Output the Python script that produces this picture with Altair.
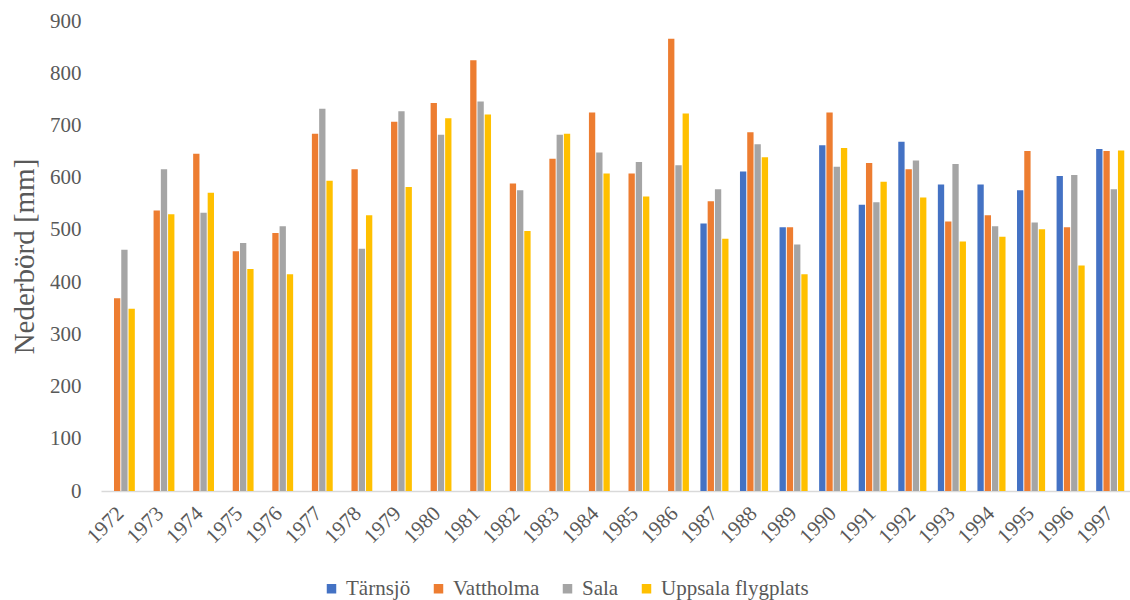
import altair as alt
import pandas as pd

years = [str(y) for y in range(1972, 1998)]
stations = ["Tärnsjö", "Vattholma", "Sala", "Uppsala flygplats"]
colors = ["#4472C4", "#ED7D31", "#A5A5A5", "#FFC000"]

# Annual precipitation (mm); Tärnsjö has no record before 1987
tarnsjo = [None] * 15 + [512, 612, 505, 662, 548, 669, 587, 587, 576, 603, 655]
vattholma = [369, 537, 646, 459, 494, 684, 616, 707, 743, 825, 589, 636, 725,
             608, 866, 555, 687, 505, 725, 628, 616, 516, 528, 651, 505, 651]
sala = [462, 616, 533, 475, 507, 732, 464, 727, 682, 746, 576, 682, 648,
        630, 624, 578, 664, 472, 621, 553, 633, 626, 507, 514, 605, 578]
uppsala = [349, 530, 571, 425, 415, 594, 528, 582, 714, 721, 498, 684, 608,
           564, 723, 483, 639, 415, 657, 592, 562, 478, 487, 501, 432, 652]

rows = []
for name, series in zip(stations, [tarnsjo, vattholma, sala, uppsala]):
    for yr, v in zip(years, series):
        if v is not None:
            rows.append({"year": yr, "station": name, "value": v})
df = pd.DataFrame(rows)

FONT = "Liberation Serif"
GREY = "#595959"

chart = alt.Chart(df).mark_bar().encode(
    x=alt.X(
        "year:N",
        sort=years,
        scale=alt.Scale(paddingInner=0.29, paddingOuter=0.145),
        axis=alt.Axis(
            title=None,
            labelAngle=315,
            labelAlign="right",
            labelBaseline="middle",
            labelPadding=19,
            labelFont=FONT,
            labelFontSize=21,
            labelColor=GREY,
            ticks=False,
            domainColor="#D9D9D9",
            domainWidth=1.5,
            grid=False,
        ),
    ),
    xOffset=alt.XOffset(
        "station:N",
        sort=stations,
        scale=alt.Scale(domain=stations, paddingInner=0.13, paddingOuter=0),
    ),
    y=alt.Y(
        "value:Q",
        scale=alt.Scale(domain=[0, 900], nice=False),
        axis=alt.Axis(
            title="Nederbörd [mm]",
            values=list(range(0, 901, 100)),
            labelFont=FONT,
            labelFontSize=21,
            labelColor=GREY,
            labelPadding=20,
            ticks=False,
            domain=False,
            grid=False,
            titleFont=FONT,
            titleFontSize=29,
            titleFontWeight="normal",
            titleColor=GREY,
            titleX=-62,
            titleY=235,
        ),
    ),
    color=alt.Color(
        "station:N",
        sort=stations,
        scale=alt.Scale(domain=stations, range=colors),
        legend=alt.Legend(
            title=None,
            orient="none",
            direction="horizontal",
            legendX=220,
            legendY=557,
            symbolType="square",
            symbolSize=90,
            symbolStrokeWidth=0,
            labelFont=FONT,
            labelFontSize=21,
            labelColor=GREY,
            labelOffset=4,
            columnPadding=17,
            padding=0,
        ),
    ),
).properties(
    width=1029,
    height=470,
    autosize=alt.AutoSizeParams(type="none"),
    padding={"left": 101, "top": 21, "right": 0, "bottom": 109},
).configure(
    background="white",
    font=FONT,
).configure_view(
    stroke=None
)

chart.save("out.html", embed_options={"renderer": "svg", "actions": False})
